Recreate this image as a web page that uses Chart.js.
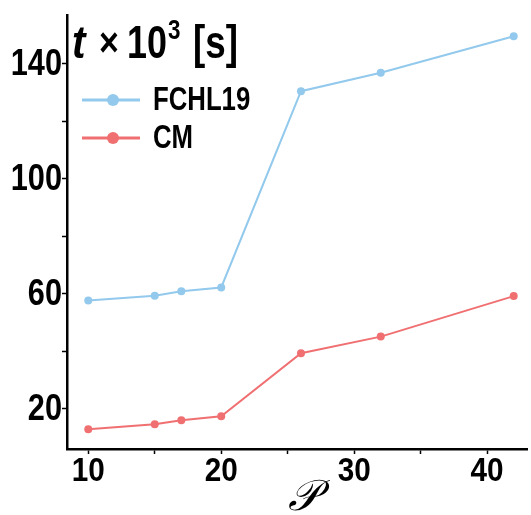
<!DOCTYPE html>
<html>
<head>
<meta charset="utf-8">
<script src="https://cdn.jsdelivr.net/npm/chart.js@4"></script>
<style>
  html, body { margin: 0; padding: 0; background: #fff; }
  #wrap { width: 531px; height: 515px; }
</style>
</head>
<body>
<div id="wrap"><canvas id="myChart" width="531" height="515"></canvas></div>
<script>
// sizes P of the molecules
const sizes = [10, 15, 17, 20, 26, 32, 42];
// time x 10^3 s
const fchl19 = [57.7, 59.3, 60.9, 62.2, 130.5, 136.9, 149.6];
const cm = [12.9, 14.6, 16.0, 17.4, 39.3, 45.1, 59.2];
const seriesNames = ['FCHL19', 'CM'];
const xTicks = [10, 15, 20, 25, 30, 35, 40];
const xLabelled = [10, 20, 30, 40];
const yTicks = [20, 40, 60, 80, 100, 120, 140];
const yLabelled = [20, 60, 100, 140];

const FONT = '"Liberation Sans", Arial, sans-serif';
const blue = 'rgb(146, 201, 236)';
const red = 'rgb(240, 112, 114)';

function pts(vals) {
    return sizes.map((x, i) => ({x: x, y: vals[i]}));
}

// the original uses a condensed face, so squeeze the text horizontally
function narrowText(ctx, txt, x, y, sx, align) {
    const w = ctx.measureText(txt).width * sx;
    let left = x;
    if (align === 'right') left = x - w;
    if (align === 'center') left = x - w / 2;
    ctx.save();
    ctx.translate(left, y);
    ctx.scale(sx, 1);
    ctx.textAlign = 'left';
    ctx.fillText(txt, 0, 0);
    ctx.restore();
    return w;
}

const overlay = {
    id: 'overlay',
    afterDraw(chart) {
        const ctx = chart.ctx;
        const a = chart.chartArea;
        const xs = chart.scales.x, ys = chart.scales.y;
        ctx.save();
        ctx.fillStyle = '#000';

        // tick labels
        ctx.textBaseline = 'middle';
        ctx.font = 'bold 37px ' + FONT;
        yLabelled.forEach(v => {
            narrowText(ctx, String(v), a.left - 5, ys.getPixelForValue(v) + 1, 0.83, 'right');
        });
        ctx.textBaseline = 'top';
        ctx.font = 'bold 33px ' + FONT;
        xLabelled.forEach(v => {
            narrowText(ctx, String(v), xs.getPixelForValue(v), a.bottom + 6, 0.9, 'center');
        });

        // axis title
        ctx.textBaseline = 'alphabetic';
        ctx.font = 'italic 43px "DejaVu Serif", serif';
        ctx.textAlign = 'center';
        ctx.fillText('𝒫', 303, 510);
        ctx.textAlign = 'left';

        // title inside the plot
        const y = 58;
        ctx.font = 'italic bold 46px ' + FONT;
        narrowText(ctx, 't', a.left + 5, y, 0.88);
        ctx.font = 'bold 40px ' + FONT;
        narrowText(ctx, '×', a.left + 32, y - 2, 0.85);
        ctx.font = 'bold 46px ' + FONT;
        const w10 = narrowText(ctx, '10', a.left + 60, y, 0.78);
        ctx.font = 'bold 28px ' + FONT;
        narrowText(ctx, '3', a.left + 61 + w10, y - 19, 0.8);
        ctx.font = 'bold 46px ' + FONT;
        narrowText(ctx, '[s]', a.left + 126, y, 0.8);

        // legend
        chart.data.datasets.forEach((ds, i) => {
            const ly = 100 + i * 38;
            ctx.strokeStyle = ds.borderColor;
            ctx.lineWidth = 3;
            ctx.beginPath();
            ctx.moveTo(82, ly);
            ctx.lineTo(140, ly);
            ctx.stroke();
            ctx.fillStyle = ds.backgroundColor;
            ctx.beginPath();
            ctx.arc(113, ly, 6, 0, Math.PI * 2);
            ctx.fill();
            ctx.fillStyle = '#000';
            ctx.font = 'bold 33px ' + FONT;
            ctx.textBaseline = 'middle';
            narrowText(ctx, ds.label, 153, ly + 1, 0.78);
        });
        ctx.restore();
    }
};

Chart.defaults.font.family = FONT;
Chart.defaults.color = '#000';

const myChart = new Chart(document.getElementById('myChart').getContext('2d'), {
    type: 'line',
    data: {
        datasets: [{
            label: seriesNames[0],
            data: pts(fchl19),
            borderColor: blue,
            backgroundColor: blue,
            borderWidth: 2,
            pointRadius: 4,
            pointBorderWidth: 0,
            tension: 0
        }, {
            label: seriesNames[1],
            data: pts(cm),
            borderColor: red,
            backgroundColor: red,
            borderWidth: 2,
            pointRadius: 4,
            pointBorderWidth: 0,
            tension: 0
        }]
    },
    plugins: [overlay],
    options: {
        responsive: false,
        animation: false,
        layout: { padding: { top: 15, right: 0, left: 0, bottom: 0 } },
        plugins: {
            legend: { display: false },
            tooltip: { enabled: false }
        },
        scales: {
            x: {
                type: 'linear',
                min: 8.4,
                max: 43,
                afterBuildTicks: (axis) => { axis.ticks = xTicks.map(v => ({value: v})); },
                afterFit: (axis) => { axis.height = 66; },
                ticks: { display: false },
                grid: { drawOnChartArea: false, tickLength: 5, tickColor: '#000', tickWidth: 1.5 },
                border: { color: '#000', width: 2.5 }
            },
            y: {
                min: 6,
                max: 157,
                afterBuildTicks: (axis) => { axis.ticks = yTicks.map(v => ({value: v})); },
                afterFit: (axis) => { axis.width = 67; },
                ticks: { display: false },
                grid: { drawOnChartArea: false, tickLength: 5, tickColor: '#000', tickWidth: 1.5 },
                border: { color: '#000', width: 2.5 }
            }
        }
    }
});
</script>
</body>
</html>
